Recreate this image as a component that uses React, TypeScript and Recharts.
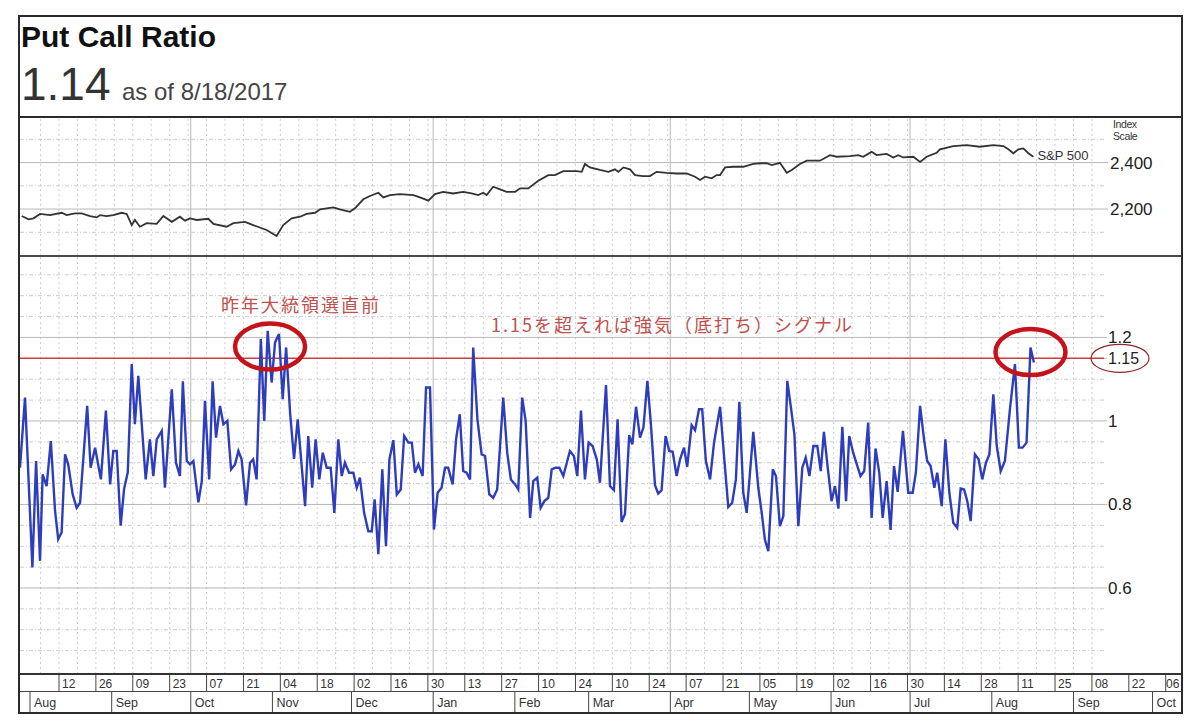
import React from "react";
import { LineChart, Line, XAxis, YAxis, ReferenceLine, ReferenceDot } from "recharts";

// x values are calendar days counted from 2016-08-01
const pcrDays = [
  -3.8, -1.9, 0.9, 2.3, 3.8, 4.8, 6.3, 7.9, 9.5, 10.7,
  12.0, 13.3, 14.5, 16.2, 17.7, 19.0, 21.7, 23.0, 24.7, 26.9,
  28.8, 30.4, 31.6, 32.9, 34.4, 35.7, 37.1, 38.6, 39.8, 41.1,
  43.9, 45.5, 46.8, 48.1, 50.0, 51.2, 53.8, 55.4, 56.9, 58.0,
  59.5, 60.7, 62.0, 63.9, 65.2, 66.4, 68.0, 69.3, 70.6, 72.1,
  73.4, 74.9, 76.3, 77.8, 79.1, 80.3, 82.0, 83.5, 84.7, 86.0,
  87.6, 88.9, 90.2, 91.7, 93.0, 94.5, 95.9, 97.2, 98.7, 100.2,
  101.6, 104.4, 105.6, 107.1, 108.4, 109.8, 111.1, 112.6, 114.1, 115.5,
  117.0, 118.3, 119.5, 121.1, 122.7, 124.0, 125.2, 126.8, 128.4, 129.7,
  130.8, 132.2, 133.7, 135.1, 136.4, 137.9, 139.2, 140.7, 142.0, 143.6,
  144.9, 146.1, 147.4, 149.0, 150.3, 151.8, 153.3, 154.7, 156.2, 157.5,
  158.7, 160.4, 161.7, 163.1, 164.4, 165.7, 167.0, 168.2, 169.8, 171.4,
  172.7, 174.3, 175.8, 177.3, 179.6, 181.1, 182.5, 184.1, 185.3, 186.8,
  188.1, 189.8, 191.0, 192.5, 193.8, 195.2, 196.7, 198.0, 199.5, 200.9,
  202.4, 204.9, 206.4, 207.7, 209.1, 210.6, 212.0, 213.5, 215.1, 216.3,
  218.6, 220.1, 221.6, 223.0, 224.5, 225.8, 227.4, 228.6, 230.0, 231.5,
  232.8, 234.3, 235.6, 237.2, 238.4, 239.7, 241.2, 242.6, 243.9, 245.4,
  246.7, 248.2, 249.4, 251.1, 252.4, 253.9, 255.1, 256.5, 258.1, 259.6,
  261.9, 263.5, 265.0, 266.5, 267.9, 269.2, 270.7, 272.0, 274.5, 276.4,
  277.7, 278.9, 280.2, 281.9, 283.1, 284.6, 285.9, 287.4, 288.7, 290.1,
  291.6, 293.1, 294.4, 295.8, 297.3, 298.8, 300.1, 301.3, 302.9, 304.2,
  305.5, 306.8, 308.3, 309.7, 310.9, 312.4, 314.0, 315.2, 316.6, 318.1,
  319.4, 320.9, 322.3, 323.6, 325.1, 326.6, 327.9, 329.3, 331.3, 333.3,
  335.0, 336.2, 337.8, 339.3, 340.5, 341.8, 343.2, 344.3, 346.0, 347.4,
  348.9, 350.4, 351.9, 353.2, 354.5, 355.7, 357.0, 358.6, 360.0, 361.4,
  362.8, 364.1, 365.6, 366.9, 368.4, 370.0, 371.9, 373.8, 375.3, 376.7,
  378.2, 379.7, 381.0,
];

const pcrValues = [
  0.888, 1.056, 0.649, 0.904, 0.665, 0.872, 0.844, 0.952, 0.785, 0.717,
  0.733, 0.92, 0.896, 0.824, 0.792, 0.804, 1.036, 0.888, 0.936, 0.86,
  1.025, 0.848, 0.928, 0.928, 0.749, 0.837, 0.877, 1.136, 0.992, 1.108,
  0.86, 0.956, 0.868, 0.956, 0.976, 0.84, 1.076, 0.9, 0.868, 1.095,
  0.904, 0.896, 0.904, 0.805, 0.856, 1.048, 0.86, 1.095, 0.96, 1.036,
  0.992, 1.0, 0.884, 0.896, 0.928, 0.908, 0.798, 0.9, 0.908, 0.86,
  1.196, 1.0, 1.216, 1.092, 1.188, 1.208, 1.052, 1.176, 1.02, 0.909,
  1.004, 0.796, 0.964, 0.84, 0.956, 0.86, 0.924, 0.888, 0.888, 0.78,
  0.956, 0.868, 0.9, 0.876, 0.876, 0.84, 0.864, 0.78, 0.736, 0.736,
  0.812, 0.681, 0.884, 0.7, 0.908, 0.954, 0.824, 0.836, 0.964, 0.948,
  0.948, 0.876, 0.896, 0.868, 1.08, 1.08, 0.74, 0.828, 0.84, 0.888,
  0.888, 0.848, 0.956, 1.016, 0.88, 0.876, 0.86, 1.176, 1.004, 0.92,
  0.916, 0.824, 0.816, 0.836, 1.056, 0.924, 0.86, 0.848, 0.836, 1.056,
  1.0, 0.768, 0.856, 0.864, 0.792, 0.808, 0.816, 0.884, 0.888, 0.888,
  0.868, 0.928, 0.916, 0.868, 1.025, 0.86, 0.948, 0.94, 0.908, 0.852,
  1.086, 0.844, 0.834, 1.004, 0.758, 0.777, 0.966, 0.944, 1.034, 0.96,
  0.984, 1.096, 0.996, 0.846, 0.826, 0.834, 0.964, 0.928, 0.926, 0.868,
  0.908, 0.936, 0.89, 0.99, 0.978, 1.028, 1.028, 0.904, 0.86, 0.948,
  1.034, 0.908, 0.794, 0.804, 0.86, 1.046, 0.828, 0.78, 0.974, 0.84,
  0.78, 0.716, 0.688, 0.884, 0.868, 0.748, 0.772, 1.096, 1.036, 0.968,
  0.748, 0.888, 0.912, 0.868, 0.94, 0.94, 0.88, 0.974, 0.88, 0.808,
  0.844, 0.79, 0.986, 0.808, 0.964, 0.924, 0.892, 0.868, 0.88, 0.996,
  0.768, 0.934, 0.876, 0.768, 0.856, 0.739, 0.892, 0.83, 0.976, 0.828,
  0.828, 0.876, 1.036, 0.956, 0.904, 0.892, 0.84, 0.876, 0.796, 0.956,
  0.828, 0.756, 0.744, 0.838, 0.836, 0.808, 0.76, 0.92, 0.908, 0.86,
  0.9, 0.92, 1.064, 0.94, 0.88, 0.904, 1.028, 1.136, 0.936, 0.936,
  0.948, 1.176, 1.14,
];

const spxDays = [
  -3.1, -0.6, 1.3, 3.8, 7.6, 12.0, 13.9, 17.1, 19.6, 22.8,
  25.3, 26.6, 29.1, 31.6, 34.8, 36.7, 38.6, 39.8, 41.7, 44.3,
  48.1, 50.6, 53.8, 56.9, 58.8, 60.7, 63.3, 67.7, 69.6, 74.6,
  77.2, 81.6, 84.7, 89.8, 93.6, 96.1, 99.3, 102.5, 105.0, 108.2,
  110.1, 115.1, 117.6, 121.4, 123.3, 126.5, 129.0, 132.2, 134.1, 136.6,
  140.4, 145.5, 148.0, 151.2, 153.7, 156.8, 160.6, 164.4, 167.6, 170.1,
  172.0, 173.3, 175.8, 178.4, 180.9, 184.1, 186.0, 189.1, 192.9, 196.7,
  199.2, 202.4, 207.5, 209.4, 210.6, 212.5, 216.3, 219.5, 222.0, 223.3,
  225.2, 227.7, 229.6, 232.7, 235.3, 237.8, 241.6, 245.4, 249.2, 252.4,
  254.3, 256.2, 258.7, 260.6, 261.9, 263.8, 266.9, 270.7, 274.5, 277.0,
  279.6, 281.5, 284.6, 287.2, 289.1, 292.2, 294.8, 299.8, 303.6, 306.1,
  311.2, 314.3, 316.2, 319.4, 321.3, 325.1, 327.6, 329.5, 331.4, 335.2,
  337.8, 340.3, 344.1, 345.3, 350.4, 355.5, 360.5, 365.6, 369.4, 371.3,
  373.2, 375.1, 377.0, 378.9, 380.8,
];

const spxValues = [
  2170, 2156, 2160, 2179, 2174, 2184, 2174, 2181, 2181, 2170,
  2164, 2174, 2170, 2174, 2184, 2179, 2131, 2153, 2124, 2139,
  2136, 2170, 2145, 2167, 2150, 2160, 2153, 2158, 2136, 2124,
  2139, 2145, 2131, 2110, 2084, 2131, 2160, 2167, 2179, 2184,
  2199, 2207, 2199, 2188, 2203, 2242, 2256, 2270, 2250, 2260,
  2264, 2260, 2250, 2236, 2264, 2274, 2267, 2274, 2267, 2260,
  2270, 2260, 2296, 2285, 2274, 2274, 2289, 2289, 2322, 2346,
  2346, 2363, 2363, 2360, 2394, 2379, 2368, 2360, 2371, 2360,
  2379, 2371, 2346, 2342, 2342, 2360, 2356, 2353, 2353, 2339,
  2325, 2339, 2332, 2346, 2346, 2379, 2382, 2382, 2394, 2397,
  2397, 2389, 2399, 2356, 2368, 2394, 2408, 2408, 2432, 2425,
  2428, 2432, 2425, 2446, 2432, 2437, 2422, 2432, 2422, 2425,
  2403, 2425, 2442, 2457, 2471, 2475, 2468, 2475, 2471, 2457,
  2440, 2457, 2461, 2440, 2425,
];

// bi-weekly Friday ticks and month starts on the date band
const dayTicks = [11, 25, 39, 53, 67, 81, 95, 109, 123, 137, 151, 165, 179, 193, 207, 221, 235, 249, 263, 277, 291, 305, 319, 333, 347, 361, 375, 389, 403, 417, 431];
const dayLabels = ["12", "26", "09", "23", "07", "21", "04", "18", "02", "16", "30", "13", "27", "10", "24", "10", "24", "07", "21", "05", "19", "02", "16", "30", "14", "28", "11", "25", "08", "22", "06"];
const monthTicks = [0, 31, 61, 92, 122, 153, 184, 212, 243, 273, 304, 334, 365, 396, 426];
const monthLabels = ["Aug", "Sep", "Oct", "Nov", "Dec", "Jan", "Feb", "Mar", "Apr", "May", "Jun", "Jul", "Aug", "Sep", "Oct"];
const quarterDays = [61, 153, 243, 334];
const fridayDays = Array.from({ length: 58 }, (_, i) => 4 + i * 7);

const pcrTicks = [0.6, 0.8, 1, 1.15, 1.2];
const pcrMajor = [0.6, 0.8, 1, 1.2];
const pcrMinor = [0.45, 0.5, 0.55, 0.65, 0.7, 0.75, 0.85, 0.9, 0.95, 1.05, 1.1, 1.25, 1.3, 1.35];
const spxTicks = [2200, 2400];
const spxMinor = [2100, 2300, 2500];
const signalLevel = 1.15;
const highlights = [
  { day: 91.1, value: 1.178 },
  { day: 379.7, value: 1.165 },
];

const X_START = -3.8;
const PANEL_END = 407.6;
const AXIS_END = 436.8;
const BAND_WIDTH = 1161;

const pcrRows = pcrDays.map((day, i) => ({ day, pcr: pcrValues[i] }));
const spxRows = spxDays.map((day, i) => ({ day, spx: spxValues[i] }));

const FONT = "'Liberation Sans', Arial, sans-serif";
const JP_FONT = "'Noto Sans CJK JP', sans-serif";
const SOLID = "#b8b8b8";
const DASH = "#cdcdcd";
const INK = "#2b2b2b";

const PcrTick = (props: any) => {
  const { x, y, payload } = props;
  if (payload.value === signalLevel) {
    return (
      <g>
        <ellipse cx={x + 12} cy={y} rx={29} ry={14} fill="none" stroke="#8c2a2a" strokeWidth={1.2} />
        <text x={x} y={y} dy={6} fontSize={16} fill="#222" fontFamily={FONT}>1.15</text>
      </g>
    );
  }
  return (
    <text x={x} y={y} dy={6} fontSize={17} fill="#222" fontFamily={FONT}>
      {String(payload.value)}
    </text>
  );
};

const DayTick = (props: any) => {
  const { x, y, index } = props;
  const tx = Math.min(x + 3, BAND_WIDTH - 15);
  return (
    <g>
      <line x1={x} x2={x} y1={y} y2={y + 18} stroke="#444" />
      <text x={tx} y={y + 14} fontSize={12} fill="#333" fontFamily={FONT}>{dayLabels[index]}</text>
    </g>
  );
};

const MonthTick = (props: any) => {
  const { x, y, index } = props;
  return (
    <g>
      <line x1={x} x2={x} y1={y} y2={y + 21} stroke="#444" />
      <text x={x + 4} y={y + 15} fontSize={12.5} fill="#333" fontFamily={FONT}>{monthLabels[index]}</text>
    </g>
  );
};

const spxEndLabel = (props: any) => {
  const { x, y, index } = props;
  if (index !== spxDays.length - 1) return null;
  return (
    <text x={x + 4} y={y + 3} fontSize={13} fill="#333" fontFamily={FONT}>S&amp;P 500</text>
  );
};

export default function App() {
  return (
    <div style={{ position: "absolute", left: 0, top: 0, width: 1200, height: 724, background: "#fff", overflow: "hidden", fontFamily: FONT }}>
      <div style={{ position: "absolute", left: 20, top: 117 }}>
        <LineChart width={BAND_WIDTH} height={139} data={spxRows} margin={{ top: 0, right: 0, bottom: 0, left: 0 }}>
          <XAxis dataKey="day" type="number" domain={[X_START, PANEL_END]} allowDataOverflow hide />
          <YAxis
            orientation="right"
            width={77}
            domain={[1998, 2596]}
            allowDataOverflow
            ticks={spxTicks}
            axisLine={false}
            tickLine={{ stroke: SOLID }}
            tickSize={4}
            tickMargin={2}
            tick={{ fill: "#222", fontSize: 17, fontFamily: FONT, textAnchor: "start" }}
            tickFormatter={(v: number) => v.toLocaleString("en-US")}
          />
          {fridayDays.map((d) => (
            <ReferenceLine key={"w" + d} x={d} stroke={DASH} strokeDasharray="2 3" />
          ))}
          {quarterDays.map((d) => (
            <ReferenceLine key={"q" + d} x={d} stroke={SOLID} />
          ))}
          {spxMinor.map((v) => (
            <ReferenceLine key={"m" + v} y={v} stroke={DASH} strokeDasharray="4 2 1 2" />
          ))}
          {spxTicks.map((v) => (
            <ReferenceLine key={"s" + v} y={v} stroke={SOLID} />
          ))}
          <Line
            dataKey="spx"
            type="linear"
            stroke="#333"
            strokeWidth={1.8}
            dot={false}
            isAnimationActive={false}
            label={spxEndLabel}
          />
        </LineChart>
      </div>

      <div style={{ position: "absolute", left: 20, top: 256 }}>
        <LineChart width={BAND_WIDTH} height={418} data={pcrRows} margin={{ top: 0, right: 0, bottom: 0, left: 0 }}>
          <XAxis dataKey="day" type="number" domain={[X_START, PANEL_END]} allowDataOverflow hide />
          <YAxis
            orientation="right"
            width={77}
            domain={[0.394, 1.395]}
            allowDataOverflow
            ticks={pcrTicks}
            interval={0}
            axisLine={false}
            tickLine={{ stroke: SOLID }}
            tickSize={3}
            tickMargin={1}
            tick={PcrTick}
          />
          {fridayDays.map((d) => (
            <ReferenceLine key={"w" + d} x={d} stroke={DASH} strokeDasharray="2 3" />
          ))}
          {quarterDays.map((d) => (
            <ReferenceLine key={"q" + d} x={d} stroke={SOLID} />
          ))}
          {pcrMinor.map((v) => (
            <ReferenceLine key={"m" + v} y={v} stroke={DASH} strokeDasharray="4 2 1 2" />
          ))}
          {pcrMajor.map((v) => (
            <ReferenceLine key={"s" + v} y={v} stroke={SOLID} />
          ))}
          <ReferenceLine y={signalLevel} stroke="#cf3d3d" strokeWidth={1.5} />
          <Line
            dataKey="pcr"
            type="linear"
            stroke="#2e3dbd"
            strokeWidth={2.4}
            dot={false}
            isAnimationActive={false}
          />
          {highlights.map((h) => (
            <ReferenceDot
              key={"h" + h.day}
              x={h.day}
              y={h.value}
              r={30}
              shape={(p: any) => (
                <ellipse cx={p.cx} cy={p.cy} rx={35} ry={23} fill="none" stroke="#c4131b" strokeWidth={4.5} />
              )}
            />
          ))}
        </LineChart>
      </div>

      <div style={{ position: "absolute", left: 20, top: 654 }}>
        <LineChart width={BAND_WIDTH} height={59} data={pcrRows} margin={{ top: 0, right: 0, bottom: 0, left: 0 }}>
          <XAxis
            xAxisId="day"
            dataKey="day"
            type="number"
            domain={[X_START, AXIS_END]}
            allowDataOverflow
            ticks={dayTicks}
            interval={0}
            height={18}
            axisLine={false}
            tickLine={false}
            tickSize={0}
            tickMargin={0}
            tick={DayTick}
          />
          <XAxis
            xAxisId="month"
            dataKey="day"
            type="number"
            domain={[X_START, AXIS_END]}
            allowDataOverflow
            ticks={monthTicks}
            interval={0}
            height={21}
            axisLine={false}
            tickLine={false}
            tickSize={0}
            tickMargin={0}
            tick={MonthTick}
          />
        </LineChart>
      </div>

      <div style={{ position: "absolute", left: 18, top: 15, width: 1165, height: 699, border: "2px solid " + INK, boxSizing: "border-box" }} />
      <div style={{ position: "absolute", left: 20, top: 116, width: 1161, height: 2, background: INK }} />
      <div style={{ position: "absolute", left: 20, top: 255, width: 1161, height: 2, background: "#4a4a4a" }} />
      <div style={{ position: "absolute", left: 20, top: 673, width: 1161, height: 2, background: "#333" }} />
      <div style={{ position: "absolute", left: 20, top: 691, width: 1161, height: 1, background: "#444" }} />

      <svg width={1200} height={724} style={{ position: "absolute", left: 0, top: 0, pointerEvents: "none" }}>
        <text x={21} y={47} fontSize={30} fontWeight="bold" fill="#111" fontFamily={FONT}>Put Call Ratio</text>
        <text x={21} y={100} fontSize={46} fill="#333" fontFamily={FONT}>1.14</text>
        <text x={122} y={100} fontSize={24} fill="#444" fontFamily={FONT}>as of 8/18/2017</text>
        <text x={1113} y={128} fontSize={10.5} fill="#333" fontFamily={FONT} letterSpacing={-0.4}>Index</text>
        <text x={1113} y={140} fontSize={10.5} fill="#333" fontFamily={FONT} letterSpacing={-0.4}>Scale</text>
        <text x={221} y={312} fontSize={18} fill="#c0504d" fontFamily={JP_FONT} letterSpacing={2}>昨年大統領選直前</text>
        <text x={491} y={332} fontSize={18} fill="#c0504d" fontFamily={JP_FONT} letterSpacing={2}>1.15を超えれば強気（底打ち）シグナル</text>
      </svg>
    </div>
  );
}
